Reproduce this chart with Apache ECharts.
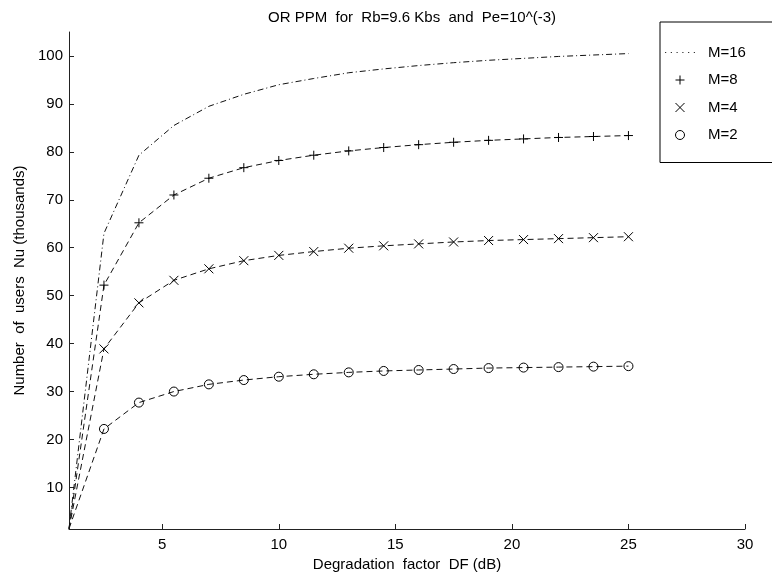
<!DOCTYPE html>
<html><head><meta charset="utf-8">
<script src="https://cdn.jsdelivr.net/npm/echarts@6/dist/echarts.min.js"></script>
<style>html,body{margin:0;padding:0;background:#fff}#c{width:772px;height:579px}</style>
</head><body><div id="c"></div>
<script>
// ---- data ----
const xValues = [1, 2.5, 4, 5.5, 7, 8.5, 10, 11.5, 13, 14.5, 16, 17.5, 19, 20.5, 22, 23.5, 25];
const m16 = [1.4, 63, 79.3, 85.5, 89.5, 92, 94, 95.3, 96.5, 97.3, 98, 98.6, 99.1, 99.5, 99.9, 100.2, 100.5];
const m8  = [1.4, 52.2, 65.2, 71, 74.5, 76.7, 78.2, 79.3, 80.2, 80.9, 81.5, 82, 82.4, 82.7, 83, 83.2, 83.4];
const m4  = [1.4, 38.9, 48.5, 53.2, 55.6, 57.3, 58.4, 59.2, 59.9, 60.4, 60.8, 61.2, 61.5, 61.7, 61.9, 62.1, 62.3];
const m2  = [1.4, 22.2, 27.7, 30, 31.5, 32.4, 33.1, 33.6, 34, 34.3, 34.5, 34.7, 34.9, 35, 35.1, 35.2, 35.3];
const seriesNames = ['M=16', 'M=8', 'M=4', 'M=2'];
const xTicks = [5, 10, 15, 20, 25, 30];
const yTicks = [10, 20, 30, 40, 50, 60, 70, 80, 90, 100];
const titleText = 'OR PPM  for  Rb=9.6 Kbs  and  Pe=10^(-3)';
const xName = 'Degradation  factor  DF (dB)';
const yName = 'Number  of  users  Nu (thousands)';

// ---- styles ----
const FONT = "'Liberation Sans', Arial, Helvetica, sans-serif";
const PLUS = 'path://M4,0L4,8M0,4L8,4';
const CROSS = 'path://M0,0L8,8M8,0L0,8';
const DOTS = 'path://M0,0h1.2v1.2h-1.2zM5.7,0h1.2v1.2h-1.2zM11.4,0h1.2v1.2h-1.2zM17.1,0h1.2v1.2h-1.2zM22.8,0h1.2v1.2h-1.2zM28.5,0h1.2v1.2h-1.2z';

function pts(ys) {
  return xValues.map((x, i) => i === 0 ? { value: [x, ys[i]], symbol: 'none' } : [x, ys[i]]);
}
function mk(name, ys, sym, size, dash) {
  return {
    name: name, type: 'line', data: pts(ys), symbol: sym, symbolSize: size,
    showSymbol: sym !== 'none', clip: false, animation: false,
    lineStyle: { color: '#111', width: 1, type: dash },
    itemStyle: { color: 'transparent', borderColor: '#000', borderWidth: 1 },
    emphasis: { disabled: true }
  };
}

const chart = echarts.init(document.getElementById('c'), null, { renderer: 'canvas' });
chart.setOption({
  backgroundColor: '#fff',
  animation: false,
  textStyle: { fontFamily: FONT },
  title: {
    text: titleText, left: 407, textAlign: 'center', top: 5,
    textStyle: { fontSize: 15, fontWeight: 'normal', color: '#000', fontFamily: FONT }
  },
  grid: { left: 69, right: 27, top: 32, bottom: 50, containLabel: false },
  xAxis: {
    type: 'value', min: 1, max: 30,
    name: xName, nameLocation: 'middle', nameGap: 27,
    nameTextStyle: { fontSize: 15, color: '#000', fontFamily: FONT },
    axisLine: { show: true, lineStyle: { color: '#222', width: 1 } },
    axisTick: { show: true, inside: true, length: 5, customValues: xTicks, lineStyle: { color: '#222' } },
    axisLabel: { customValues: xTicks, fontSize: 15, color: '#000', margin: 8, fontFamily: FONT },
    splitLine: { show: false }
  },
  yAxis: {
    type: 'value', min: 1.33, max: 105,
    name: yName, nameLocation: 'middle', nameGap: 40,
    nameTextStyle: { fontSize: 15, color: '#000', fontFamily: FONT },
    axisLine: { show: true, lineStyle: { color: '#222', width: 1 } },
    axisTick: { show: true, inside: true, length: 5, customValues: yTicks, lineStyle: { color: '#222' } },
    axisLabel: { customValues: yTicks, fontSize: 15, color: '#000', margin: 6, fontFamily: FONT },
    splitLine: { show: false }
  },
  legend: {
    orient: 'vertical', left: 660, top: 22,
    padding: [23, 160, 20, 5],
    borderColor: '#000', borderWidth: 1,
    itemWidth: 30, itemHeight: 9, itemGap: 12.5,
    selectedMode: false,
    textStyle: { fontSize: 15, color: '#000', fontFamily: FONT, padding: [0, 0, 0, 8] },
    data: [
      { name: 'M=16', icon: DOTS, itemStyle: { color: '#333', borderWidth: 0 } },
      { name: 'M=8', icon: PLUS, itemStyle: { color: 'transparent', borderColor: '#000', borderWidth: 1 } },
      { name: 'M=4', icon: CROSS, itemStyle: { color: 'transparent', borderColor: '#000', borderWidth: 1 } },
      { name: 'M=2', icon: 'circle', itemStyle: { color: 'transparent', borderColor: '#000', borderWidth: 1 } }
    ]
  },
  series: [
    mk(seriesNames[0], m16, 'none', 0, [6, 3, 1, 3]),
    mk(seriesNames[1], m8, PLUS, 9, [6, 4]),
    mk(seriesNames[2], m4, CROSS, 9, [6, 4]),
    mk(seriesNames[3], m2, 'circle', 9, [6, 4])
  ]
});
</script>
</body></html>
